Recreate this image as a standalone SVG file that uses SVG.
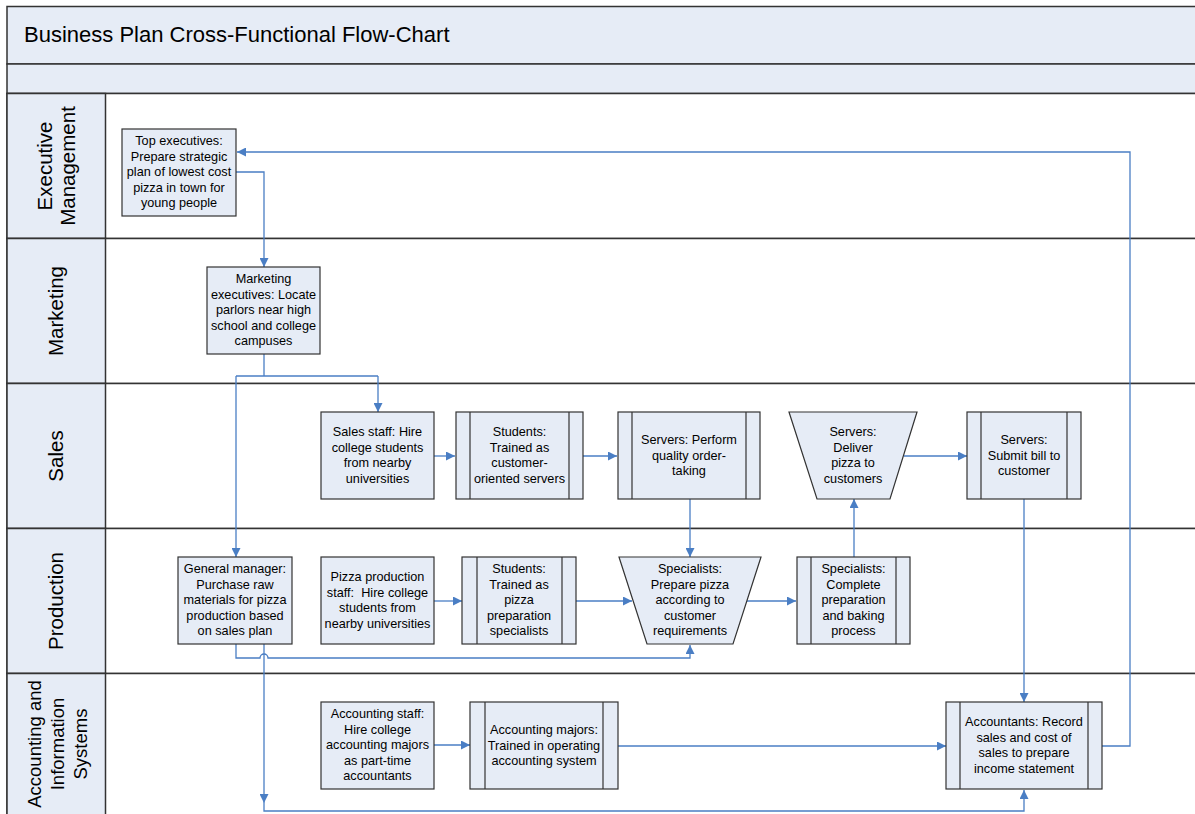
<svg xmlns="http://www.w3.org/2000/svg" width="1195" height="814" viewBox="0 0 1195 814">
<defs>
<marker id="ah" markerUnits="userSpaceOnUse" markerWidth="9" markerHeight="9" refX="9" refY="4.5" orient="auto">
<path d="M0,0 L9,4.5 L0,9 z" fill="#4A7EC4"/>
</marker>
</defs>
<style>
.band{fill:#E6ECF6;stroke:#333;stroke-width:1.5}
.lane{fill:#fff;stroke:#333;stroke-width:1.5}
.hdr{fill:#E6ECF6;stroke:#333;stroke-width:1.5}
.node{fill:#E6ECF6;stroke:#333;stroke-width:1.2}
.bar{stroke:#333;stroke-width:1.2}
.t{font-family:"Liberation Sans",Arial,sans-serif;font-size:12.7px;fill:#000;text-anchor:middle}
.title{font-family:"Liberation Sans",Arial,sans-serif;font-size:22px;fill:#000}
.lt{font-family:"Liberation Sans",Arial,sans-serif;font-size:20.5px;fill:#000;text-anchor:middle}
.lts{font-size:18.5px}
.c{fill:none;stroke:#4A7EC4;stroke-width:1.3}
.ca{fill:none;stroke:#4A7EC4;stroke-width:1.3;marker-end:url(#ah)}
</style>
<rect width="1195" height="814" fill="#fff"/>
<g id="frame">
<rect class="band" x="7" y="6.5" width="1200" height="57.5"/>
<rect class="band" x="7" y="64" width="1200" height="29.5"/>
<text class="title" x="24" y="42">Business Plan Cross-Functional Flow-Chart</text>
</g>
<g id="lane-exec">
<rect class="lane" x="7" y="93.5" width="1200" height="145"/>
<rect class="hdr" x="7" y="93.5" width="98.5" height="145"/>
<text class="lt" transform="translate(56,166) rotate(-90)"><tspan x="0" y="-4">Executive</tspan><tspan x="0" y="19">Management</tspan></text>
</g>
<g id="lane-marketing">
<rect class="lane" x="7" y="238.5" width="1200" height="145"/>
<rect class="hdr" x="7" y="238.5" width="98.5" height="145"/>
<text class="lt" transform="translate(56,311) rotate(-90)"><tspan x="0" y="7">Marketing</tspan></text>
</g>
<g id="lane-sales">
<rect class="lane" x="7" y="383.5" width="1200" height="145"/>
<rect class="hdr" x="7" y="383.5" width="98.5" height="145"/>
<text class="lt" transform="translate(56,456) rotate(-90)"><tspan x="0" y="7">Sales</tspan></text>
</g>
<g id="lane-production">
<rect class="lane" x="7" y="528.5" width="1200" height="145"/>
<rect class="hdr" x="7" y="528.5" width="98.5" height="145"/>
<text class="lt" transform="translate(56,601) rotate(-90)"><tspan x="0" y="7">Production</tspan></text>
</g>
<g id="lane-accounting">
<rect class="lane" x="7" y="673.5" width="1200" height="145"/>
<rect class="hdr" x="7" y="673.5" width="98.5" height="145"/>
<text class="lt lts" transform="translate(57,744) rotate(-90)"><tspan x="0" y="-16">Accounting and</tspan><tspan x="0" y="7">Information</tspan><tspan x="0" y="30">Systems</tspan></text>
</g>

<g id="connectors">
<path class="ca" d="M236,172 H264 V267"/>
<path class="c" d="M264,354 V376"/>
<path class="c" d="M236,376 H378"/>
<path class="ca" d="M378,376 V412"/>
<path class="ca" d="M236,376 V557"/>
<path class="ca" d="M434,456 H455"/>
<path class="ca" d="M583,456 H617"/>
<path class="ca" d="M690,499 V557"/>
<path class="ca" d="M854,557 V499"/>
<path class="ca" d="M904,456 H967"/>
<path class="ca" d="M1024,499 V702"/>
<path class="ca" d="M434,601 H462"/>
<path class="ca" d="M576,601 H632"/>
<path class="ca" d="M747,601 H796"/>
<path class="ca" d="M236,644 V658 H260 A4,4 0 0 1 268,658 H690 V645"/>
<path class="ca" d="M264,644 V803"/>
<path class="ca" d="M264,803 V811 H1024 V790"/>
<path class="ca" d="M434,745 H470"/>
<path class="ca" d="M618,746 H946"/>
<path class="ca" d="M1102,746 H1130 V152 H237"/>
</g>

<g id="n-top-exec">
<rect class="node" x="122" y="129" width="114" height="87"/>
<text class="t"><tspan x="179" y="145">Top executives:</tspan><tspan x="179" y="160.5">Prepare strategic</tspan><tspan x="179" y="176">plan of lowest cost</tspan><tspan x="179" y="191.5">pizza in town for</tspan><tspan x="179" y="207">young people</tspan></text>
</g>
<g id="n-marketing">
<rect class="node" x="207" y="267" width="113" height="87"/>
<text class="t"><tspan x="263.5" y="283">Marketing</tspan><tspan x="263.5" y="298.5">executives: Locate</tspan><tspan x="263.5" y="314">parlors near high</tspan><tspan x="263.5" y="329.5">school and college</tspan><tspan x="263.5" y="345">campuses</tspan></text>
</g>
<g id="n-sales-staff">
<rect class="node" x="321" y="412" width="113" height="87"/>
<text class="t"><tspan x="377.5" y="436">Sales staff: Hire</tspan><tspan x="377.5" y="451.5">college students</tspan><tspan x="377.5" y="467">from nearby</tspan><tspan x="377.5" y="482.5">universities</tspan></text>
</g>
<g id="n-students-servers">
<rect class="node" x="456" y="412" width="127" height="87"/>
<line class="bar" x1="470" y1="412" x2="470" y2="499"/><line class="bar" x1="569" y1="412" x2="569" y2="499"/>
<text class="t"><tspan x="519.5" y="436">Students:</tspan><tspan x="519.5" y="451.5">Trained as</tspan><tspan x="519.5" y="467">customer-</tspan><tspan x="519.5" y="482.5">oriented servers</tspan></text>
</g>
<g id="n-servers-perform">
<rect class="node" x="618" y="412" width="142" height="87"/>
<line class="bar" x1="632" y1="412" x2="632" y2="499"/><line class="bar" x1="746" y1="412" x2="746" y2="499"/>
<text class="t"><tspan x="689" y="444">Servers: Perform</tspan><tspan x="689" y="459.5">quality order-</tspan><tspan x="689" y="475">taking</tspan></text>
</g>
<g id="n-servers-deliver">
<polygon class="node" points="789,412 917,412 890,499 817,499"/>
<text class="t"><tspan x="853" y="436">Servers:</tspan><tspan x="853" y="451.5">Deliver</tspan><tspan x="853" y="467">pizza to</tspan><tspan x="853" y="482.5">customers</tspan></text>
</g>
<g id="n-submit-bill">
<rect class="node" x="967" y="412" width="114" height="87"/>
<line class="bar" x1="981" y1="412" x2="981" y2="499"/><line class="bar" x1="1067" y1="412" x2="1067" y2="499"/>
<text class="t"><tspan x="1024" y="444">Servers:</tspan><tspan x="1024" y="459.5">Submit bill to</tspan><tspan x="1024" y="475">customer</tspan></text>
</g>
<g id="n-general-manager">
<rect class="node" x="178" y="557" width="114" height="87"/>
<text class="t"><tspan x="235" y="573">General manager:</tspan><tspan x="235" y="588.5">Purchase raw</tspan><tspan x="235" y="604">materials for pizza</tspan><tspan x="235" y="619.5">production based</tspan><tspan x="235" y="635">on sales plan</tspan></text>
</g>
<g id="n-pizza-staff">
<rect class="node" x="321" y="557" width="113" height="87"/>
<text class="t"><tspan x="377.5" y="581">Pizza production</tspan><tspan x="377.5" y="596.5" xml:space="preserve">staff:  Hire college</tspan><tspan x="377.5" y="612">students from</tspan><tspan x="377.5" y="627.5">nearby universities</tspan></text>
</g>
<g id="n-students-pizza">
<rect class="node" x="462" y="557" width="114" height="87"/>
<line class="bar" x1="477" y1="557" x2="477" y2="644"/><line class="bar" x1="562" y1="557" x2="562" y2="644"/>
<text class="t"><tspan x="519" y="573">Students:</tspan><tspan x="519" y="588.5">Trained as</tspan><tspan x="519" y="604">pizza</tspan><tspan x="519" y="619.5">preparation</tspan><tspan x="519" y="635">specialists</tspan></text>
</g>
<g id="n-specialists-prepare">
<polygon class="node" points="619,557 761,557 733,644 647,644"/>
<text class="t"><tspan x="690" y="573">Specialists:</tspan><tspan x="690" y="588.5">Prepare pizza</tspan><tspan x="690" y="604">according to</tspan><tspan x="690" y="619.5">customer</tspan><tspan x="690" y="635">requirements</tspan></text>
</g>
<g id="n-specialists-complete">
<rect class="node" x="797" y="557" width="113" height="87"/>
<line class="bar" x1="811" y1="557" x2="811" y2="644"/><line class="bar" x1="896" y1="557" x2="896" y2="644"/>
<text class="t"><tspan x="853.5" y="573">Specialists:</tspan><tspan x="853.5" y="588.5">Complete</tspan><tspan x="853.5" y="604">preparation</tspan><tspan x="853.5" y="619.5">and baking</tspan><tspan x="853.5" y="635">process</tspan></text>
</g>
<g id="n-accounting-staff">
<rect class="node" x="321" y="702" width="113" height="87"/>
<text class="t"><tspan x="377.5" y="718">Accounting staff:</tspan><tspan x="377.5" y="733.5">Hire college</tspan><tspan x="377.5" y="749">accounting majors</tspan><tspan x="377.5" y="764.5">as part-time</tspan><tspan x="377.5" y="780">accountants</tspan></text>
</g>
<g id="n-accounting-majors">
<rect class="node" x="470" y="702" width="148" height="87"/>
<line class="bar" x1="485" y1="702" x2="485" y2="789"/><line class="bar" x1="603" y1="702" x2="603" y2="789"/>
<text class="t"><tspan x="544" y="734">Accounting majors:</tspan><tspan x="544" y="749.5">Trained in operating</tspan><tspan x="544" y="765">accounting system</tspan></text>
</g>
<g id="n-accountants">
<rect class="node" x="946" y="702" width="156" height="87"/>
<line class="bar" x1="960" y1="702" x2="960" y2="789"/><line class="bar" x1="1088" y1="702" x2="1088" y2="789"/>
<text class="t"><tspan x="1024" y="726">Accountants: Record</tspan><tspan x="1024" y="741.5">sales and cost of</tspan><tspan x="1024" y="757">sales to prepare</tspan><tspan x="1024" y="772.5">income statement</tspan></text>
</g>
</svg>
